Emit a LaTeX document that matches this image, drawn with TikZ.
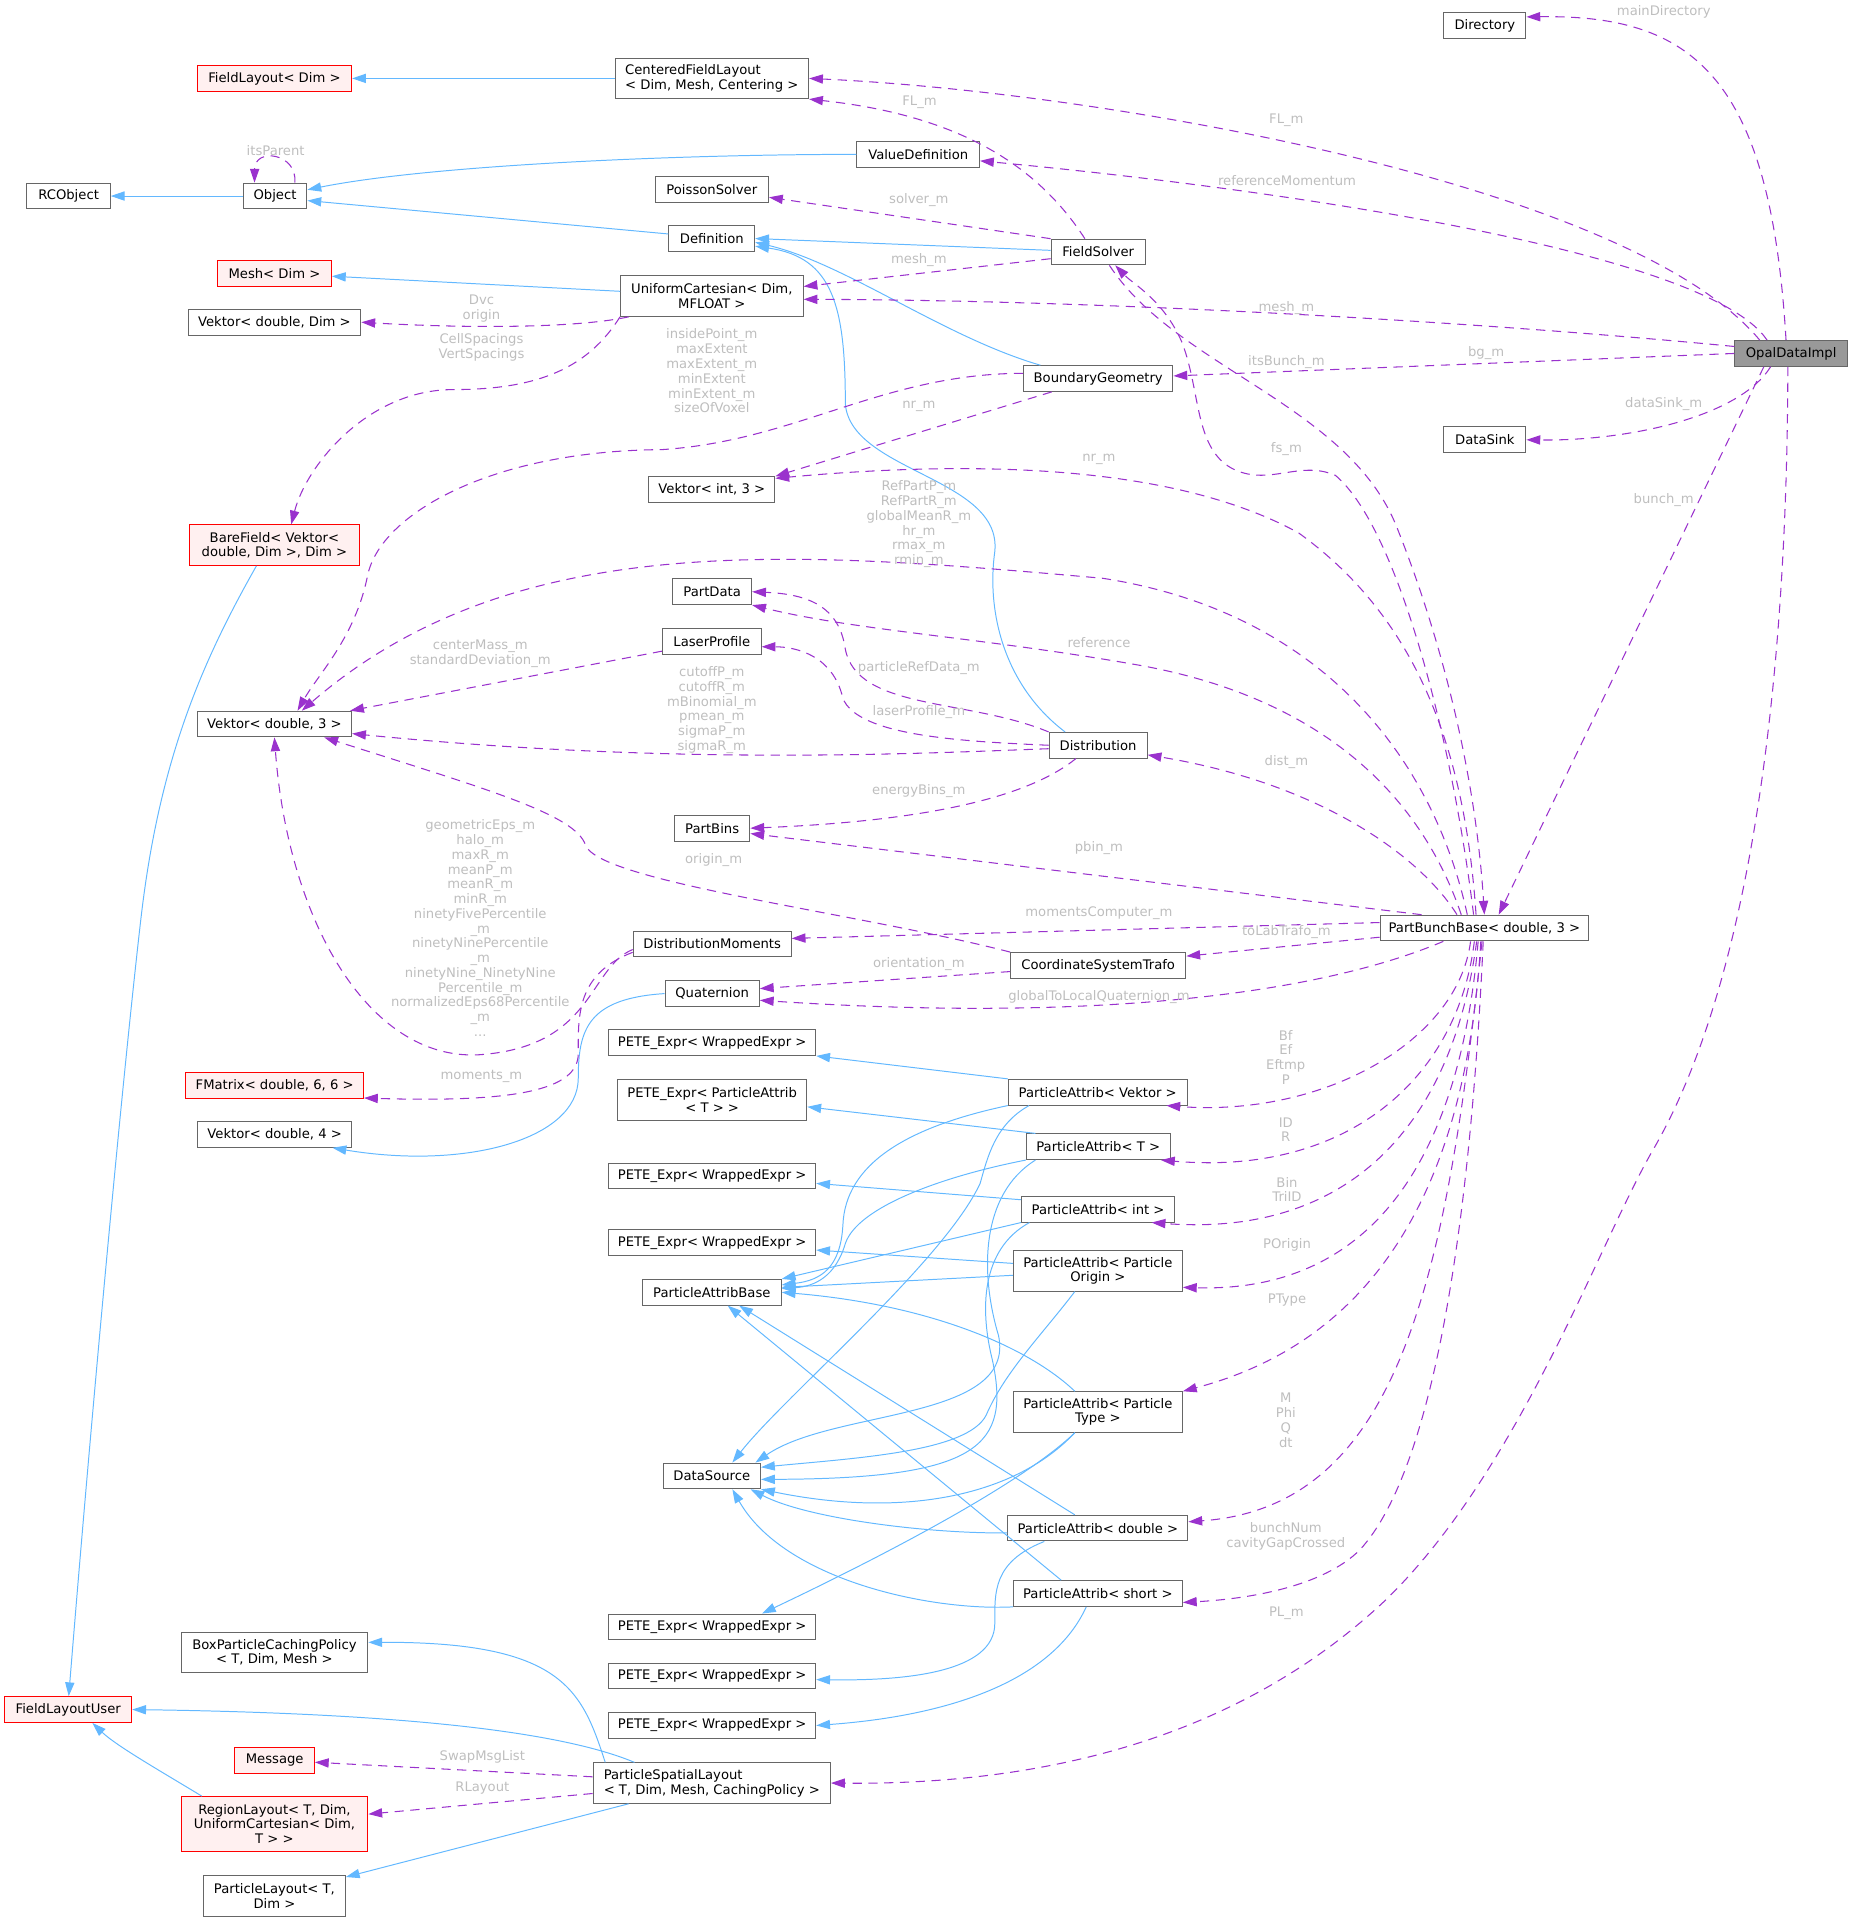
\documentclass[tikz,border=0pt]{standalone}
\usepackage{fontspec}
\setmainfont{DejaVu Sans}
\usetikzlibrary{arrows.meta}
\definecolor{inhblue}{HTML}{63B8FF}
\definecolor{usepurple}{HTML}{9A32CD}
\definecolor{nodeframe}{HTML}{666666}
\definecolor{redfill}{HTML}{FFF0F0}
\definecolor{implfill}{HTML}{999999}
\definecolor{lblgrey}{HTML}{BEBEBE}

\begin{document}
\begin{tikzpicture}[
        x=0.93pt, y=-0.93pt,
        font=\fontsize{10}{11.2}\selectfont,
        cls/.style={rectangle, draw=nodeframe, fill=white, line width=0.75pt, inner sep=0pt,
                minimum height=19.5pt, minimum width=#1*0.93pt, align=center},
        redcls/.style={cls=#1, draw=red, fill=redfill},
        twoline/.style={minimum height=30.7pt},
        threeline/.style={minimum height=41.6pt},
        lbl/.style={text=lblgrey, inner sep=0pt, align=center},
        inh/.style={draw=inhblue, line width=0.75pt, -{Triangle[length=10.5pt,width=7pt]}},
        use/.style={draw=usepurple, line width=0.8pt, dash pattern=on 7pt off 5pt,
                -{Triangle[length=10.5pt,width=7pt]}}
    ]

    \useasboundingbox (0,0) rectangle (1512,1568);

    \node[cls=67] (dir) at (1212,21) {Directory};
    \node[cls=92, fill=implfill] (odi) at (1462,288.5) {OpalDataImpl};
    \node[redcls=126] (fl) at (224,64) {FieldLayout< Dim >};
    \node[cls=158, twoline, align=left] (cfl) at (581,64) {CenteredFieldLayout\\< Dim, Mesh, Centering >};
    \node[cls=100] (vd) at (749.5,126) {ValueDefinition};
    \node[cls=68] (rco) at (56,160) {RCObject};
    \node[cls=52] (obj) at (224.5,160) {Object};
    \node[cls=92.5] (ps) at (581,154.5) {PoissonSolver};
    \node[cls=70] (def) at (581,194.7) {Definition};
    \node[cls=77] (fs) at (896.4,205.7) {FieldSolver};
    \node[redcls=93] (mesh) at (224,223) {Mesh< Dim >};
    \node[cls=149, twoline] (uc) at (581,241.7) {UniformCartesian< Dim,\\MFLOAT >};
    \node[cls=141] (vdim) at (224,263) {Vektor< double, Dim >};
    \node[cls=122] (bg) at (896.4,309) {BoundaryGeometry};
    \node[cls=67] (dsink) at (1212,359) {DataSink};
    \node[cls=103] (vi3) at (581,399.6) {Vektor< int, 3 >};
    \node[redcls=139.4, twoline] (bf) at (224,445) {BareField< Vektor<\\double, Dim >, Dim >};
    \node[cls=64.4] (pd) at (581.3,483) {PartData};
    \node[cls=80.5] (lp) at (581,523.6) {LaserProfile};
    \node[cls=126] (vd3) at (224,591) {Vektor< double, 3 >};
    \node[cls=80] (dist) at (896.3,608.3) {Distribution};
    \node[cls=61.5] (pbins) at (581.3,676) {PartBins};
    \node[cls=170.4] (pbb) at (1211.6,757.5) {PartBunchBase< double, 3 >};
    \node[cls=129] (dm) at (581.3,770.5) {DistributionMoments};
    \node[cls=143] (cst) at (896.4,788) {CoordinateSystemTrafo};
    \node[cls=77] (qua) at (581.3,811) {Quaternion};
    \node[cls=169] (pete1) at (581.3,851) {PETE\_Expr< WrappedExpr >};
    \node[redcls=145] (fmat) at (224.2,886) {FMatrix< double, 6, 6 >};
    \node[cls=146] (pav) at (896,891.5) {ParticleAttrib< Vektor >};
    \node[cls=154.5, twoline] (pete2l) at (581.3,898) {PETE\_Expr< ParticleAttrib\\< T > >};
    \node[cls=126] (v4) at (224.2,926) {Vektor< double, 4 >};
    \node[cls=117.4] (pat) at (896.4,936) {ParticleAttrib< T >};
    \node[cls=169] (pete2) at (581.3,960) {PETE\_Expr< WrappedExpr >};
    \node[cls=125] (pai) at (896.3,987) {ParticleAttrib< int >};
    \node[cls=169] (pete3) at (581.3,1014.4) {PETE\_Expr< WrappedExpr >};
    \node[cls=138, twoline] (papo) at (896.1,1037.3) {ParticleAttrib< Particle\\Origin >};
    \node[cls=113.3] (pab) at (581,1054.8) {ParticleAttribBase};
    \node[cls=138, twoline] (papt) at (896.1,1152.5) {ParticleAttrib< Particle\\Type >};
    \node[cls=79.5] (ds) at (581,1204.7) {DataSource};
    \node[cls=147] (pad) at (896.1,1247.3) {ParticleAttrib< double >};
    \node[cls=138] (pas) at (896.1,1300.7) {ParticleAttrib< short >};
    \node[cls=169] (pete4) at (581.3,1327.9) {PETE\_Expr< WrappedExpr >};
    \node[cls=152.5, twoline] (bpcp) at (224,1348.6) {BoxParticleCachingPolicy\\< T, Dim, Mesh >};
    \node[cls=169] (pete5) at (581.3,1368) {PETE\_Expr< WrappedExpr >};
    \node[redcls=103.6] (flu) at (55.7,1395.4) {FieldLayoutUser};
    \node[cls=169] (pete6) at (581.3,1408.4) {PETE\_Expr< WrappedExpr >};
    \node[redcls=64.8] (msg) at (224.2,1436.7) {Message};
    \node[cls=193.7, twoline, align=left] (psl) at (581,1455.4) {ParticleSpatialLayout\\< T, Dim, Mesh, CachingPolicy >};
    \node[redcls=152.5, threeline] (rl) at (224,1488.8) {RegionLayout< T, Dim,\\UniformCartesian< Dim,\\T > >};
    \node[cls=115.7, twoline] (pl) at (224,1547.7) {ParticleLayout< T,\\Dim >};

    \draw[inh] (cfl.west) -- (fl.east);
    \draw[inh] (vd.west) .. controls (550,126) and (350,135) .. (obj.11);
    \draw[inh] (obj.west) -- (rco.east);
    \draw[inh] (def.174) -- (obj.-8);
    \draw[inh] (fs.178) -- (def.east);
    \draw[inh] (bg.167) .. controls (770,275) and (690,215) .. (def.-5);
    \draw[inh] (dist.158) .. controls (820,560) and (805,500) .. (812,450)
        .. controls (818,390) and (695,385) .. (690,330)
        .. controls (690,250) and (680,210) .. (def.-10);
    \draw[inh] (uc.177) -- (mesh.-3);
    \draw[inh] (bf.-131) .. controls (165,540) and (130,620) .. (115,750)
        .. controls (100,880) and (75,1150) .. (flu.88);
    \draw[inh] (qua.west) .. controls (480,815) and (472,840) .. (472,880)
        .. controls (472,930) and (380,955) .. (v4.-13);
    \draw[inh] (pav.north west) -- (pete1.south east);
    \draw[inh] (pat.168) -- (pete2l.-4);
    \draw[inh] (pai.173) -- (pete2.-4);
    \draw[inh] (papo.175) -- (pete3.-4);
    \draw[inh] (papt.-138) .. controls (830,1215) and (700,1280) .. (pete4.15);
    \draw[inh] (pad.-166) .. controls (810,1275) and (812,1300) .. (812,1325)
        .. controls (812,1365) and (740,1372) .. (pete5.-2);
    \draw[inh] (pas.-131) .. controls (860,1370) and (780,1400) .. (pete6.east);
    \draw[inh] (pav.south west) .. controls (740,920) and (690,950) .. (688,1000)
        .. controls (686,1035) and (670,1045) .. (pab.6);
    \draw[inh] (pat.south west) .. controls (770,960) and (700,985) .. (690,1015)
        .. controls (682,1042) and (665,1050) .. (pab.3);
    \draw[inh] (pai.south west) -- (pab.north east);
    \draw[inh] (papo.183) -- (pab.4);
    \draw[inh] (papt.138) .. controls (840,1100) and (760,1065) .. (pab.east);
    \draw[inh] (pad.150) -- (pab.-26);
    \draw[inh] (pas.160) -- (pab.-40);
    \draw[inh] (pav.-169) .. controls (812,918) and (806,945) .. (800,966)
        .. controls (770,1030) and (640,1140) .. (ds.33);
    \draw[inh] (pat.-168) .. controls (800,975) and (800,1040) .. (815,1090)
        .. controls (830,1160) and (680,1150) .. (ds.17);
    \draw[inh] (pai.-169) .. controls (800,1020) and (800,1070) .. (810,1110)
        .. controls (825,1180) and (800,1207) .. (ds.-4);
    \draw[inh] (papo.-138) .. controls (850,1090) and (820,1120) .. (805,1155)
        .. controls (790,1185) and (700,1190) .. (ds.10);
    \draw[inh] (papt.-138) .. controls (830,1220) and (740,1240) .. (ds.south east);
    \draw[inh] (pad.183) .. controls (760,1252) and (660,1240) .. (ds.-19);
    \draw[inh] (pas.south west) .. controls (760,1315) and (640,1290) .. (ds.-33);
    \draw[inh] (psl.169) .. controls (475,1380) and (460,1340) .. (bpcp.6);
    \draw[inh] (psl.165) .. controls (450,1410) and (300,1398) .. (flu.east);
    \draw[inh] (psl.-166) -- (pl.15);
    \draw[inh] (rl.159) .. controls (130,1445) and (95,1425) .. (flu.-29);

    \draw[use] (odi.111) .. controls (1445,60) and (1380,12) .. (dir.12);
    \draw[use] (odi.157) .. controls (1330,150) and (900,75) .. (cfl.east);
    \draw[use] (odi.151) .. controls (1390,200) and (1000,150) .. (vd.-6);
    \draw[use] (odi.173) .. controls (1200,262) and (900,245) .. (uc.-2);
    \draw[use] (odi.west) -- (bg.2);
    \draw[use] (odi.-147) .. controls (1420,340) and (1330,360) .. (dsink.east);
    \draw[use] (odi.-154) -- (pbb.43);
    \draw[use] (odi.-104) .. controls (1459,550) and (1430,800) .. (1349,939)
        .. controls (1305,1015) and (1240,1200) .. (1131,1306)
        .. controls (1010,1420) and (850,1457) .. (psl.east);
    \draw[use] (fs.-50) .. controls (960,300) and (1100,330) .. (1140,430)
        .. controls (1180,530) and (1205,640) .. (pbb.north);
    \draw[use] (pbb.129) .. controls (1185,600) and (1140,430) .. (1090,388)
        .. controls (1060,375) and (1035,398) .. (1005,382)
        .. controls (975,365) and (980,320) .. (965,280)
        .. controls (950,245) and (925,232) .. (fs.-38);
    \draw[use] (fs.135) .. controls (850,140) and (790,95) .. (cfl.south east);
    \draw[use] (fs.north west) -- (ps.-8);
    \draw[use] (fs.188) -- (uc.6);
    \draw[use] (bg.176) .. controls (720,305) and (650,360) .. (540,367)
        .. controls (400,368) and (310,420) .. (300,470)
        .. controls (290,520) and (260,550) .. (vd3.30);
    \draw[use] (bg.-164) -- (vi3.north east);
    \draw[use] (pbb.122) .. controls (1195,600) and (1150,500) .. (1060,435)
        .. controls (960,380) and (800,375) .. (vi3.10);
    \draw[use] (pbb.142) .. controls (1170,620) and (1080,500) .. (900,472)
        .. controls (650,450) and (420,430) .. (vd3.26);
    \draw[use] (pbb.150) .. controls (1160,650) and (1080,570) .. (930,543)
        .. controls (800,520) and (700,515) .. (pd.south east);
    \draw[use] (dist.north west) .. controls (790,570) and (700,580) .. (690,530)
        .. controls (685,495) and (660,485) .. (pd.east);
    \draw[use] (dist.west) .. controls (780,605) and (700,600) .. (688,570)
        .. controls (680,535) and (650,528) .. (lp.-6);
    \draw[use] (lp.191) -- (vd3.10);
    \draw[use] (dist.184) .. controls (750,615) and (550,625) .. (vd3.-7);
    \draw[use] (dist.-149) .. controls (840,650) and (760,670) .. (pbins.east);
    \draw[use] (pbb.154) .. controls (1160,700) and (1080,640) .. (dist.-11);
    \draw[use] (pbb.168) -- (pbins.-8);
    \draw[use] (pbb.177) -- (dm.4);
    \draw[use] (cst.north west) .. controls (700,745) and (490,720) .. (478,690)
        .. controls (470,665) and (400,645) .. (vd3.-15);
    \draw[use] (pbb.185) -- (cst.6);
    \draw[use] (cst.184) -- (qua.6);
    \draw[use] (pbb.-162) .. controls (1080,810) and (900,835) .. (qua.-8);
    \draw[use] (dm.184) .. controls (480,790) and (485,855) .. (390,861)
        .. controls (300,865) and (235,750) .. (vd3.south);
    \draw[use] (dm.186) .. controls (470,795) and (472,830) .. (472,860)
        .. controls (472,890) and (420,900) .. (fmat.-8);
    \draw[use] (uc.-166) .. controls (470,268) and (380,268) .. (vdim.east);
    \draw[use] (uc.south west) .. controls (480,300) and (440,318) .. (370,318)
        .. controls (300,318) and (250,380) .. (bf.51);
    \draw[use] (obj.34) .. controls (243,125) and (208,120) .. (obj.147);
    \draw[use] (psl.177) -- (msg.-3);
    \draw[use] (psl.185) -- (rl.6);
    \draw[use] (pbb.-136) .. controls (1190,850) and (1080,912) .. (pav.-11);
    \draw[use] (pbb.-127) .. controls (1190,880) and (1100,960) .. (pat.-12);
    \draw[use] (pbb.-120) .. controls (1185,920) and (1100,1010) .. (pai.-14);
    \draw[use] (pbb.-115) .. controls (1190,960) and (1110,1055) .. (papo.-11);
    \draw[use] (pbb.-105) .. controls (1195,1000) and (1100,1100) .. (papt.north east);
    \draw[use] (pbb.-100) .. controls (1180,1050) and (1140,1230) .. (pad.4);
    \draw[use] (pbb.-95) .. controls (1200,1000) and (1170,1200) .. (1110,1265)
        .. controls (1080,1295) and (1020,1305) .. (pas.-6);

    \node[lbl] (l-maindir) at (1358,10) {mainDirectory};
    \node[lbl] (l-flfs) at (750.6,83.8) {FL\_m};
    \node[lbl] (l-flodi) at (1050,98) {FL\_m};
    \node[lbl] (l-refmom) at (1050.5,147.8) {referenceMomentum};
    \node[lbl] (l-solver) at (750,163) {solver\_m};
    \node[lbl] (l-meshfs) at (750,212) {mesh\_m};
    \node[lbl] (l-meshodi) at (1050,251.5) {mesh\_m};
    \node[lbl] (l-bg) at (1213,288) {bg\_m};
    \node[lbl] (l-itsbunch) at (1050,295.8) {itsBunch\_m};
    \node[lbl] (l-datasink) at (1358,329.8) {dataSink\_m};
    \node[lbl] (l-parent) at (225,123) {itsParent};
    \node[lbl] (l-dvc) at (393,251.8) {Dvc\\origin};
    \node[lbl] (l-spacing) at (393,283.5) {CellSpacings\\VertSpacings};
    \node[lbl] (l-inside) at (581,302.8) {insidePoint\_m\\maxExtent\\maxExtent\_m\\minExtent\\minExtent\_m\\sizeOfVoxel};
    \node[lbl] (l-nrbg) at (750,332) {nr\_m};
    \node[lbl] (l-nrpbb) at (897,374.7) {nr\_m};
    \node[lbl] (l-fs) at (1050,366.6) {fs\_m};
    \node[lbl] (l-bunch) at (1358,408) {bunch\_m};
    \node[lbl] (l-refpart) at (750,428) {RefPartP\_m\\RefPartR\_m\\globalMeanR\_m\\hr\_m\\rmax\_m\\rmin\_m};
    \node[lbl] (l-reference) at (897,524.4) {reference};
    \node[lbl] (l-prefdata) at (750,545) {particleRefData\_m};
    \node[lbl] (l-centermass) at (392,533.8) {centerMass\_m\\standardDeviation\_m};
    \node[lbl] (l-cutoff) at (581,579.6) {cutoffP\_m\\cutoffR\_m\\mBinomial\_m\\pmean\_m\\sigmaP\_m\\sigmaR\_m};
    \node[lbl] (l-laser) at (750,581) {laserProfile\_m};
    \node[lbl] (l-dist) at (1050,622.4) {dist\_m};
    \node[lbl] (l-ebins) at (750,646) {energyBins\_m};
    \node[lbl] (l-pbin) at (897,692.3) {pbin\_m};
    \node[lbl] (l-origin) at (582.5,702) {origin\_m};
    \node[lbl] (l-geomeps) at (392,757.5) {geometricEps\_m\\halo\_m\\maxR\_m\\meanP\_m\\meanR\_m\\minR\_m\\ninetyFivePercentile\\\_m\\ninetyNinePercentile\\\_m\\ninetyNine\_NinetyNine\\Percentile\_m\\normalizedEps68Percentile\\\_m\\...};
    \node[lbl] (l-momcomp) at (897,745.6) {momentsComputer\_m};
    \node[lbl] (l-tolab) at (1050,760.9) {toLabTrafo\_m};
    \node[lbl] (l-orient) at (750,787) {orientation\_m};
    \node[lbl] (l-g2l) at (897,814) {globalToLocalQuaternion\_m};
    \node[lbl] (l-bf) at (1049.5,863) {Bf\\Ef\\Eftmp\\P};
    \node[lbl] (l-moments) at (393,878.4) {moments\_m};
    \node[lbl] (l-id) at (1049.5,922) {ID\\R};
    \node[lbl] (l-bin) at (1050.5,971) {Bin\\TriID};
    \node[lbl] (l-porigin) at (1050.5,1016.4) {POrigin};
    \node[lbl] (l-ptype) at (1050.5,1061.3) {PType};
    \node[lbl] (l-mphi) at (1049.5,1159.3) {M\\Phi\\Q\\dt};
    \node[lbl] (l-bunchnum) at (1049.5,1254) {bunchNum\\cavityGapCrossed};
    \node[lbl] (l-pl) at (1050,1317) {PL\_m};
    \node[lbl] (l-swap) at (393.7,1434.1) {SwapMsgList};
    \node[lbl] (l-rlayout) at (393.7,1459.2) {RLayout};

\end{tikzpicture}
\end{document}
